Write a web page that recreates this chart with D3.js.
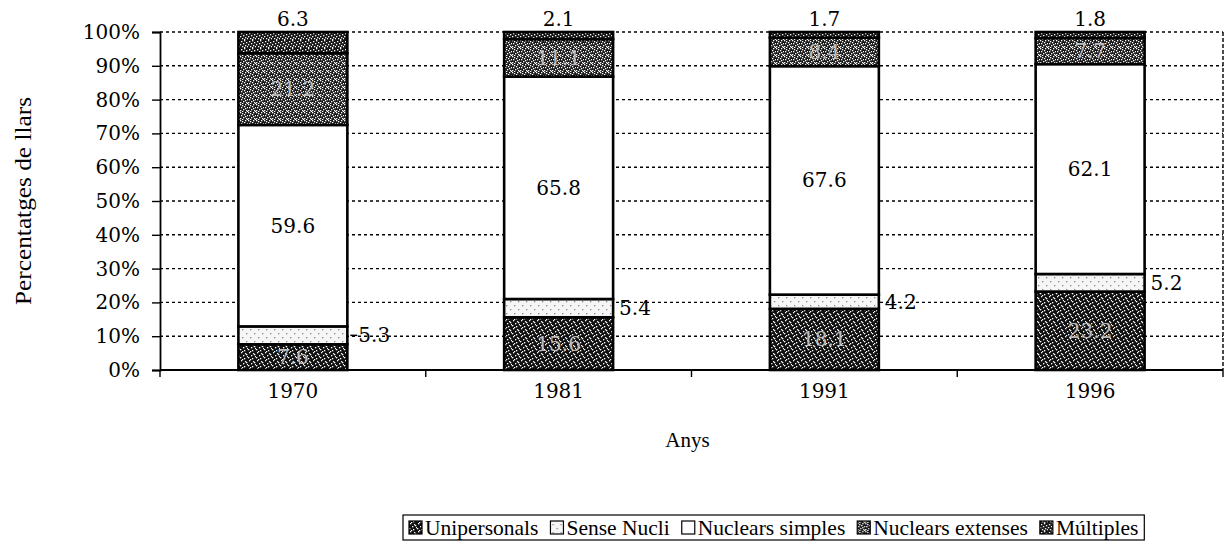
<!DOCTYPE html>
<html>
<head>
<meta charset="utf-8">
<script src="https://cdn.jsdelivr.net/npm/d3@7"></script>
<style>
  body { margin: 0; background: #fff; }
  svg { display: block; }
  .num { font-family: 'DejaVu Serif', serif; font-size: 20px; }
  .txt { font-family: 'Liberation Serif', 'Times New Roman', serif; }
</style>
</head>
<body>
<div id="chart"></div>
<script>
// data (percentages of households)
const years = ['1970', '1981', '1991', '1996'];
const seriesNames = ['Unipersonals', 'Sense Nucli', 'Nuclears simples', 'Nuclears extenses', 'Múltiples'];
const unipersonals = [7.6, 15.6, 18.1, 23.2];
const senseNucli = [5.3, 5.4, 4.2, 5.2];
const nuclearsSimples = [59.6, 65.8, 67.6, 62.1];
const nuclearsExtenses = [21.2, 11.1, 8.4, 7.7];
const multiples = [6.3, 2.1, 1.7, 1.8];
const yTicks = [0, 10, 20, 30, 40, 50, 60, 70, 80, 90, 100];

const width = 1229, height = 541;
const margin = {top: 32, right: 6, bottom: 171, left: 160};
const w = width - margin.left - margin.right;
const h = height - margin.top - margin.bottom;

const svg = d3.select('#chart').append('svg')
  .attr('width', width)
  .attr('height', height);

// stippled fills like the scanned print
const defs = svg.append('defs');
function stipple(id, base, dot, pts) {
  const p = defs.append('pattern').attr('id', id)
    .attr('patternUnits', 'userSpaceOnUse').attr('width', 8).attr('height', 8);
  p.append('rect').attr('width', 8).attr('height', 8).attr('fill', base);
  pts.forEach(([px, py]) => p.append('rect').attr('x', px).attr('y', py)
    .attr('width', 1.3).attr('height', 1.3).attr('fill', dot));
}
stipple('p-uni', '#111', '#fff', [[1, 0], [5, 1], [3, 3], [7, 4], [0, 5], [4, 6], [2, 7], [6, 2]]);
stipple('p-sense', '#f6f6f6', '#888', [[2, 1], [6, 5]]);
stipple('p-ext', '#1a1a1a', '#fff', [[0, 0], [2, 1], [5, 0], [4, 2], [7, 3], [1, 3], [3, 5], [6, 6], [0, 6], [5, 4], [2, 7], [7, 7]]);
stipple('p-mult', '#151515', '#fff', [[1, 1], [4, 0], [6, 2], [3, 3], [0, 4], [5, 5], [2, 6], [7, 6], [4, 7]]);
const fills = ['url(#p-uni)', 'url(#p-sense)', '#ffffff', 'url(#p-ext)', 'url(#p-mult)'];

const g = svg.append('g')
  .attr('transform', `translate(${margin.left},${margin.top})`);

const x = d3.scaleBand().domain(years).range([0, w]).paddingInner(0.59).paddingOuter(0.295);
const y = d3.scaleLinear().domain([0, 100]).range([h, 0]);

// build rows for the stack
const rows = years.map((yr, i) => ({
  year: yr,
  'Unipersonals': unipersonals[i],
  'Sense Nucli': senseNucli[i],
  'Nuclears simples': nuclearsSimples[i],
  'Nuclears extenses': nuclearsExtenses[i],
  'Múltiples': multiples[i]
}));
const stacked = d3.stack().keys(seriesNames)(rows);

// gridlines
g.append('g').selectAll('line').data(yTicks.slice(1)).join('line')
  .attr('x1', 0).attr('x2', w)
  .attr('y1', d => y(d)).attr('y2', d => y(d))
  .attr('stroke', '#000').attr('stroke-width', 1.4)
  .attr('stroke-dasharray', '3,3');

// right frame
g.append('line')
  .attr('x1', w).attr('x2', w).attr('y1', 0).attr('y2', h)
  .attr('stroke', '#000').attr('stroke-width', 1.4)
  .attr('stroke-dasharray', '4,2');

// y axis
const yAxis = g.append('g')
  .call(d3.axisLeft(y).tickValues(yTicks).tickFormat(d => d + '%').tickSize(8).tickPadding(12));
yAxis.select('.domain').attr('stroke-width', 1.8);
yAxis.selectAll('.tick line').attr('stroke-width', 1.4);
yAxis.selectAll('text').attr('class', 'num').attr('fill', '#000').attr('font-size', null);

// x axis with ticks between categories
const xAxis = g.append('g').attr('transform', `translate(0,${h})`);
xAxis.append('line').attr('x1', 0).attr('x2', w).attr('y1', 0).attr('y2', 0)
  .attr('stroke', '#000').attr('stroke-width', 1.8);
const sep = years.map((d, i) => i * x.step()).concat([w]);
xAxis.selectAll('.sep').data(sep).join('line')
  .attr('x1', d => d).attr('x2', d => d).attr('y1', 0).attr('y2', 7)
  .attr('stroke', '#000').attr('stroke-width', 1.4);
xAxis.selectAll('.yl').data(years).join('text')
  .attr('class', 'num')
  .attr('x', d => x(d) + x.bandwidth() / 2)
  .attr('y', 28)
  .attr('text-anchor', 'middle')
  .text(d => d);

// bars
const layers = g.append('g').selectAll('g').data(stacked).join('g')
  .attr('fill', (d, i) => fills[i]);
layers.selectAll('rect').data(d => d).join('rect')
  .attr('x', d => x(d.data.year))
  .attr('y', d => y(d[1]))
  .attr('width', x.bandwidth())
  .attr('height', d => y(d[0]) - y(d[1]))
  .attr('stroke', '#000')
  .attr('stroke-width', 2.6);

// labels
const labels = g.append('g');
stacked.forEach((layer, si) => {
  layer.forEach((d, i) => {
    const v = d[1] - d[0];
    const cx = x(d.data.year) + x.bandwidth() / 2;
    const cy = y((d[0] + d[1]) / 2);
    if (si === 1) {
      // Sense Nucli: right of bar
      const bx = x(d.data.year) + x.bandwidth();
      if (i === 0) {
        labels.append('line').attr('x1', bx + 3).attr('x2', bx + 10)
          .attr('y1', cy).attr('y2', cy).attr('stroke', '#000').attr('stroke-width', 1.5);
      }
      labels.append('text').attr('class', 'num')
        .attr('x', bx + (i === 0 ? 11 : 6)).attr('y', cy).attr('dy', '0.35em')
        .text(v.toFixed(1));
    } else if (si === 4) {
      labels.append('text').attr('class', 'num')
        .attr('x', cx).attr('y', y(d[1]) - 6)
        .attr('text-anchor', 'middle')
        .text(v.toFixed(1));
    } else {
      labels.append('text').attr('class', 'num')
        .attr('x', cx).attr('y', cy).attr('dy', '0.35em')
        .attr('text-anchor', 'middle')
        .attr('fill', si === 2 ? '#000' : '#bbb')
        .text(v.toFixed(1));
    }
  });
});

// axis titles
svg.append('text').attr('class', 'txt')
  .attr('transform', `translate(31,${margin.top + h / 2}) rotate(-90)`)
  .attr('text-anchor', 'middle')
  .attr('textLength', 208)
  .attr('lengthAdjust', 'spacingAndGlyphs')
  .style('font-size', '23px')
  .text('Percentatges de llars');

svg.append('text').attr('class', 'txt')
  .attr('x', margin.left + w / 2 - 4).attr('y', 447)
  .attr('text-anchor', 'middle')
  .style('font-size', '21px')
  .text('Anys');

// legend
const legend = svg.append('g').attr('transform', 'translate(403,515)');
const legendItems = legend.append('g');
let lx = 6;
seriesNames.forEach((name, i) => {
  const it = legendItems.append('g').attr('transform', `translate(${lx},0)`);
  it.append('rect').attr('x', 0).attr('y', 6).attr('width', 13).attr('height', 13)
    .attr('fill', fills[i]).attr('stroke', '#000').attr('stroke-width', 1.2);
  const t = it.append('text').attr('class', 'txt')
    .attr('x', 16).attr('y', 20)
    .style('font-size', '21.5px')
    .text(name);
  lx += 16 + t.node().getComputedTextLength() + 12;
});
legend.insert('rect', ':first-child')
  .attr('x', 0).attr('y', 0).attr('width', lx - 6).attr('height', 25)
  .attr('fill', '#fff').attr('stroke', '#000').attr('stroke-width', 1.2);
</script>
</body>
</html>
